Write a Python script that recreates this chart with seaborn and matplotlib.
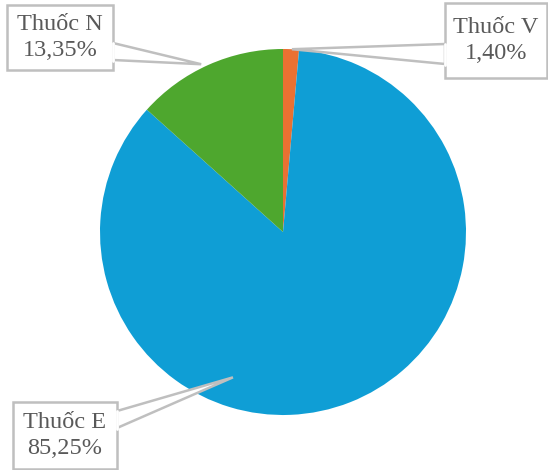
import numpy as np
import matplotlib
matplotlib.use("Agg")
import matplotlib.pyplot as plt
import seaborn as sns
from matplotlib.patches import Polygon, Rectangle

sns.set_style("white")
plt.rcParams['font.family'] = ['Liberation Serif', 'DejaVu Serif']

names = ["Thuốc V", "Thuốc E", "Thuốc N"]
values = [1.40, 85.25, 13.35]
labels = ["1,40%", "85,25%", "13,35%"]
colors = sns.color_palette(["#E97132", "#0F9ED5", "#4EA72E"])

W, H = 548, 470
fig = plt.figure(figsize=(W / 100, H / 100), dpi=100)
ax = fig.add_axes([0, 0, 1, 1])

cx, cy, R = 283, H - 232, 183
ax.pie(values, colors=colors, startangle=90, counterclock=False,
       center=(cx, cy), radius=R, frame=True,
       wedgeprops=dict(linewidth=0))
ax.set_xlim(0, W)
ax.set_ylim(0, H)
ax.set_aspect('equal')
ax.set_axis_off()

callouts = {
    "Thuốc V": dict(box=(445, 3, 547, 78), side="left", base=(44, 64), ang=87.2, rf=1.0),
    "Thuốc E": dict(box=(13, 402, 117, 469), side="right", base=(411, 428), ang=251.0, rf=0.84),
    "Thuốc N": dict(box=(7, 5, 113, 70), side="right", base=(43, 60), ang=116.0, rf=1.02),
}
gray = "#BFBFBF"
for name, lab in zip(names, labels):
    c = callouts[name]
    x0, yt, x1, yb = c["box"]
    bx = x0 if c["side"] == "left" else x1
    tip = (cx + R * c["rf"] * np.cos(np.radians(c["ang"])),
           cy + R * c["rf"] * np.sin(np.radians(c["ang"])))
    b1, b2 = c["base"]
    tri = Polygon([(bx, H - b1), tip, (bx, H - b2)], closed=True,
                  facecolor="white", edgecolor=gray, linewidth=1.8, zorder=5)
    ax.add_patch(tri)
    rect = Rectangle((x0, H - yb), x1 - x0, yb - yt, facecolor="white",
                     edgecolor=gray, linewidth=1.8, zorder=6)
    ax.add_patch(rect)
    ax.plot([bx, bx], [H - b1 + 0.5, H - b2 - 0.5], color="white", lw=2, zorder=7)
    ax.text((x0 + x1) / 2, H - (yt + yb) / 2, f"{name}\n{lab}", ha="center",
            va="center", fontsize=17.5, color="#595959", zorder=8, linespacing=1.3)

fig.savefig("out.png", dpi=100)
